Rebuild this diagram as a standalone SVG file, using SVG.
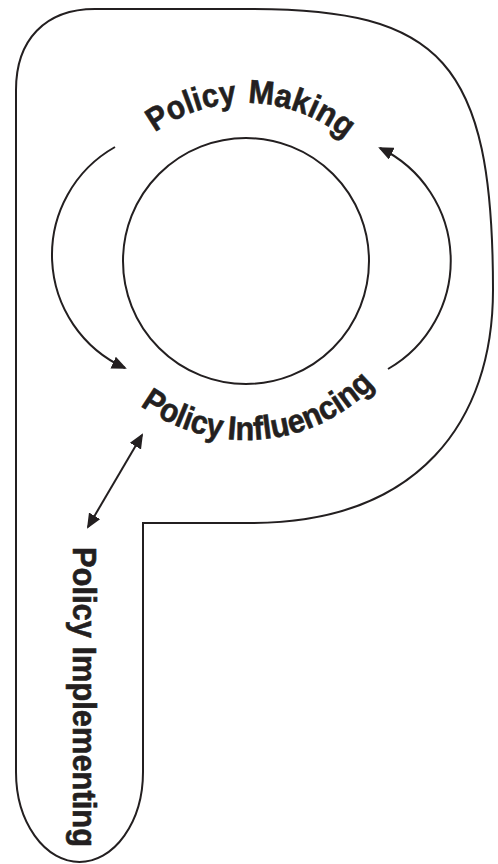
<svg xmlns="http://www.w3.org/2000/svg" width="498" height="864" viewBox="0 0 498 864">
  <style>
    .ln { fill: none; stroke: #231f20; stroke-width: 2; }
    .lbl { font-family: "Liberation Sans", Arial, sans-serif; font-weight: bold; font-size: 33px; fill: #231f20; stroke: #231f20; stroke-width: 0.6; }
  </style>
  <defs>
    <marker id="ah" markerUnits="userSpaceOnUse" markerWidth="15" markerHeight="13" refX="13" refY="6.5" orient="auto-start-reverse">
      <path d="M0,0 L15,6.5 L0,13 Z" fill="#231f20"/>
    </marker>
    <path id="topArc" d="M 91,258 A 155,155 0 0 1 401,258"/>
    <path id="botArc" d="M 67,261 A 179,179 0 0 0 425,261"/>
  </defs>
  <rect width="498" height="864" fill="#ffffff"/>

  <g id="p-outline">
    <path class="ln" d="M 16,90 C 16,40 45,9 95,9 L 250,9 C 440,9 493,60 493,290 C 493,420 420,523 250,523 L 143,523 L 143,772 A 63.5,90 0 0 1 16,772 Z"/>
  </g>

  <g id="center-circle">
    <circle class="ln" cx="246" cy="261" r="123"/>
  </g>

  <g id="policy-making">
    <text class="lbl"><textPath href="#topArc" startOffset="146" textLength="88" lengthAdjust="spacingAndGlyphs">Policy</textPath></text>
    <text class="lbl"><textPath href="#topArc" startOffset="245" textLength="106" lengthAdjust="spacingAndGlyphs">Making</textPath></text>
  </g>

  <g id="policy-influencing">
    <text class="lbl"><textPath href="#botArc" startOffset="168" textLength="88" lengthAdjust="spacingAndGlyphs">Policy</textPath></text>
    <text class="lbl"><textPath href="#botArc" startOffset="262" textLength="163" lengthAdjust="spacingAndGlyphs">Influencing</textPath></text>
  </g>

  <g id="policy-implementing">
    <text class="lbl" transform="translate(73,547) rotate(90)" x="0" y="0" textLength="300" lengthAdjust="spacingAndGlyphs">Policy Implementing</text>
  </g>

  <g id="connectors">
    <path class="ln" d="M 115,147 A 124,124 0 0 0 125,368" marker-end="url(#ah)"/>
    <path class="ln" d="M 388,369 A 125,125 0 0 0 380,148" marker-end="url(#ah)"/>
    <path class="ln" d="M 88,527 L 142,435" marker-start="url(#ah)" marker-end="url(#ah)"/>
  </g>
</svg>
